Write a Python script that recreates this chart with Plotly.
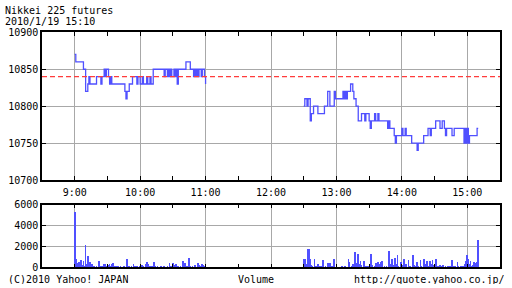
import plotly.graph_objects as go

DAY = "2010-01-19 "

am_times = ["09:00","09:01","09:08","09:10","09:12","09:13","09:14","09:20","09:24","09:25",
            "09:27","09:28","09:29","09:31","09:32","09:33","09:34","09:46","09:47","09:48",
            "09:50","09:53","09:57","09:58","10:00","10:02","10:03","10:06","10:07","10:09",
            "10:10","10:12","10:22","10:23","10:25","10:26","10:27","10:28","10:29","10:31",
            "10:32","10:33","10:34","10:35","10:42","10:46","10:49","10:50","10:51","10:52",
            "10:53","10:54","10:56","10:57","10:59","11:00"]
am_prices = [10870,10860,10850,10820,10830,10840,10830,10840,10830,10840,
             10850,10840,10850,10840,10830,10840,10830,10820,10810,10820,
             10830,10840,10830,10840,10830,10840,10830,10840,10830,10840,
             10830,10850,10840,10850,10840,10850,10840,10850,10840,10850,
             10840,10850,10830,10850,10860,10850,10840,10850,10840,10850,
             10840,10850,10840,10850,10840,10830]

pm_times = ["12:30","12:31","12:33","12:34","12:36","12:37","12:39","12:43","12:49","12:52",
            "12:54","12:58","12:59","13:06","13:07","13:08","13:09","13:10","13:11","13:13",
            "13:15","13:16","13:18","13:20","13:23","13:26","13:27","13:30","13:31","13:32",
            "13:35","13:36","13:38","13:39","13:47","13:48","13:49","13:52","13:53","13:54",
            "13:55","14:00","14:01","14:03","14:04","14:09","14:14","14:15","14:20","14:24",
            "14:26","14:27","14:31","14:35","14:37","14:39","14:40","14:41","14:46","14:48",
            "14:57","14:58","14:59","15:00","15:01","15:02","15:09","15:10"]
pm_prices = [10800,10810,10800,10810,10780,10790,10800,10790,10800,10820,
             10800,10820,10810,10820,10810,10820,10810,10820,10820,10830,
             10820,10810,10800,10780,10790,10780,10790,10780,10770,10780,
             10790,10780,10790,10780,10770,10780,10770,10770,10760,10750,
             10760,10770,10760,10770,10760,10750,10740,10750,10760,10770,
             10760,10770,10780,10770,10780,10770,10760,10770,10760,10770,
             10750,10770,10750,10770,10750,10760,10770,10770]

prev_close = 10840

vol_times = ["09:00","09:01","09:02","09:03","09:04","09:05","09:06","09:07","09:08","09:09",
             "09:10","09:11","09:12","09:13","09:14","09:15","09:16","09:18","09:20","09:22",
             "09:23","09:25","09:26","09:27","09:28","09:29","09:30","09:31","09:32","09:33",
             "09:34","09:35","09:36","09:38","09:40","09:42","09:45","09:48","09:50","09:52",
             "09:54","09:55","09:57","10:00","10:02","10:03","10:05","10:06","10:07","10:09",
             "10:11","10:13","10:14","10:16","10:19","10:22","10:25","10:27","10:28","10:30",
             "10:31","10:33","10:35","10:37","10:39","10:40","10:41","10:43","10:45","10:46",
             "10:48","10:50","10:53","10:54","10:55","10:57","10:58","10:59","11:00",
             "12:30","12:31","12:32","12:33","12:34","12:35","12:36","12:37","12:38","12:40",
             "12:41","12:43","12:45","12:46","12:48","12:50","12:52","12:54","12:56","12:58",
             "13:00","13:05","13:08","13:11","13:12","13:14","13:15","13:17","13:18","13:20",
             "13:21","13:22","13:23","13:25","13:27","13:29","13:32","13:33","13:35","13:36",
             "13:38","13:39","13:41","13:42","13:44","13:46","13:48","13:49","13:51","13:52",
             "13:54","13:55","13:56","13:57","13:59","14:00","14:02","14:03","14:04","14:06",
             "14:07","14:08","14:10","14:11","14:12","14:14","14:15","14:17","14:18","14:20",
             "14:21","14:23","14:24","14:26","14:27","14:28","14:29","14:31","14:32","14:34",
             "14:35","14:37","14:38","14:40","14:42","14:44","14:46","14:47","14:49","14:51",
             "14:52","14:54","14:56","14:58","14:59","15:00","15:01","15:02","15:03","15:04",
             "15:05","15:06","15:07","15:08","15:09","15:10"]
vol_values = [5300,860,450,300,550,350,700,250,650,200,
              2140,300,1080,150,500,100,380,120,100,600,
              150,100,150,300,300,200,100,250,350,200,
              300,450,150,100,200,100,150,800,100,150,
              300,200,100,150,250,200,350,500,300,150,
              200,500,200,150,100,150,200,400,200,400,
              250,300,150,200,600,150,450,100,890,200,
              150,250,400,250,150,300,250,200,150,
              790,790,300,200,1810,1740,790,250,150,860,
              200,300,200,150,700,150,440,440,150,790,
              100,150,100,790,530,200,300,1490,400,1330,
              300,600,250,600,150,200,1270,250,200,440,
              500,300,500,600,150,200,1560,300,790,250,
              920,300,1180,200,530,250,860,200,300,760,
              200,150,1180,250,200,530,150,700,200,860,
              300,600,200,630,300,700,250,790,200,150,
              220,150,220,150,100,150,700,150,100,530,
              150,200,150,300,600,1180,860,300,630,200,
              250,530,300,400,530,2600]

price_ticks = [10700, 10750, 10800, 10850, 10900]
vol_ticks = [0, 2000, 4000, 6000]
hour_ticks = ["09:00","10:00","11:00","12:00","13:00","14:00","15:00"]
hour_labels = ["9:00","10:00","11:00","12:00","13:00","14:00","15:00"]

BLUE = "#5050ff"
FONT = "DejaVu Sans Mono"

fig = go.Figure()
fig.add_trace(go.Scatter(x=[DAY + t for t in am_times], y=am_prices, mode="lines",
                         line=dict(color=BLUE, width=1.3, shape="hv"), xaxis="x", yaxis="y"))
fig.add_trace(go.Scatter(x=[DAY + t for t in pm_times], y=pm_prices, mode="lines",
                         line=dict(color=BLUE, width=1.3, shape="hv"), xaxis="x", yaxis="y"))
fig.add_trace(go.Scatter(x=[DAY + "08:30", DAY + "15:30"], y=[prev_close, prev_close], mode="lines",
                         line=dict(color="#ff3c3c", width=1.3, dash="5px,3px"), xaxis="x", yaxis="y"))
fig.add_trace(go.Bar(x=[DAY + t for t in vol_times], y=vol_values, width=40000,
                     marker=dict(color=BLUE, line=dict(width=0)), xaxis="x2", yaxis="y2"))

xr = [DAY + "08:30", DAY + "15:30"]
common_x = dict(type="date", range=xr, showgrid=True, gridcolor="#a8a8a8", gridwidth=1.3,
                tickvals=[DAY + t for t in hour_ticks], ticks="inside", ticklen=4, tickwidth=1,
                tickcolor="black", showline=True, linecolor="black", linewidth=1.5,
                mirror="allticks", zeroline=False, automargin=False,
                minor=dict(dtick=1800000, tick0=DAY + "09:30", ticks="inside", ticklen=4,
                           tickcolor="black", showgrid=False),
                tickfont=dict(family=FONT, size=10, color="black"))
common_y = dict(tickformat="d", showgrid=True, gridcolor="#a8a8a8", gridwidth=1.3,
                ticks="inside", ticklen=4, tickcolor="black", showline=True,
                linecolor="black", linewidth=1.5, mirror="allticks", zeroline=False,
                automargin=False, tickfont=dict(family=FONT, size=10, color="black"))

fig.update_layout(
    width=512, height=288, margin=dict(l=0, r=0, t=0, b=0, autoexpand=False),
    paper_bgcolor="white", plot_bgcolor="white", showlegend=False, bargap=0,
    xaxis=dict(domain=[42/512, 500/512], anchor="y", ticktext=hour_labels,
               showticklabels=True, ticklabelstandoff=2, **common_x),
    yaxis=dict(domain=[108/288, 255.7/288], anchor="x", range=[10700, 10900],
               tickvals=price_ticks, **common_y),
    xaxis2=dict(domain=[42/512, 500/512], anchor="y2", showticklabels=False, **common_x),
    yaxis2=dict(domain=[20.7/288, 83.3/288], anchor="x2", range=[0, 6000],
                tickvals=vol_ticks, **common_y),
)

ann_font = dict(family=FONT, size=10, color="black")
def note(text, x, y, anchor):
    fig.add_annotation(text=text, xref="paper", yref="paper", x=x/512, y=1 - y/288,
                       xanchor=anchor, yanchor="middle", showarrow=False, font=ann_font,
                       height=10, borderpad=0)

note("Nikkei 225 futures", 4, 10, "left")
note("2010/1/19 15:10", 4, 20.5, "left")
note("(C)2010 Yahoo! JAPAN", 7, 278.5, "left")
note("Volume", 256, 278.5, "center")
note("http://quote.yahoo.co.jp/", 506, 278.5, "right")

fig.write_html("out.html")
